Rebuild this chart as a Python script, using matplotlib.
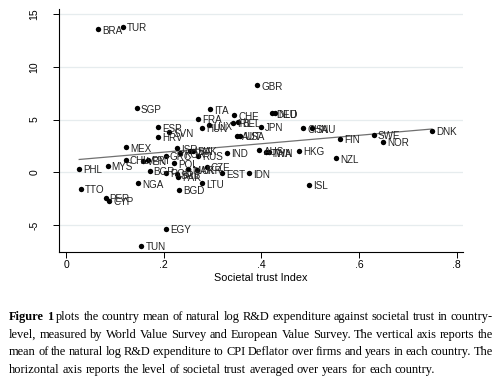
import matplotlib
matplotlib.use("Agg")
import matplotlib.pyplot as plt
import numpy as np

countries = ["BRA","TUR","SGP","ITA","CHE","FRA","ESP","SVN","HRV","HUN","LUX","IRL","BEL",
             "JPN","DEU","NLD","GBR","CHN","SAU","AUT","USA","FIN","SWE","NOR","DNK",
             "MEX","ISR","SVK","RUS","IND","AUS","TWN","THA","HKG","NZL","CHL","VEN","PRT",
             "GRC","KOR","LVA","PHL","MYS","TTO","PER","CYP","NGA","BGR","ROU","POL","SRB",
             "PAK","MAR","UKR","CZE","EST","IDN","LTU","BGD","EGY","TUN","ISL"]
trust = [0.065,0.117,0.145,0.295,0.344,0.270,0.189,0.211,0.189,0.278,0.293,0.341,0.352,
         0.399,0.421,0.427,0.392,0.485,0.503,0.351,0.357,0.561,0.630,0.649,0.749,
         0.123,0.227,0.261,0.271,0.329,0.396,0.410,0.415,0.478,0.553,0.122,0.158,0.167,
         0.204,0.234,0.254,0.027,0.085,0.031,0.081,0.089,0.147,0.171,0.204,0.221,0.227,
         0.230,0.249,0.268,0.288,0.319,0.375,0.278,0.232,0.204,0.154,0.497]
rd = [13.57,13.80,6.07,5.98,5.41,5.06,4.27,3.80,3.38,4.23,4.45,4.70,4.75,
      4.33,5.60,5.60,8.25,4.17,4.17,3.44,3.44,3.16,3.54,2.90,3.92,
      2.37,2.28,2.02,1.55,1.86,2.10,1.90,1.90,2.02,1.33,1.17,1.10,1.17,
      1.55,1.80,2.02,0.31,0.63,-1.58,-2.41,-2.72,-1.05,0.12,-0.04,0.85,-0.19,
      -0.42,0.28,0.22,0.53,-0.10,-0.10,-1.05,-1.68,-5.38,-6.96,-1.20]

fit_intercept = 1.11
fit_slope = 4.0

xticks = [0, 0.2, 0.4, 0.6, 0.8]
xticklabels = ["0", ".2", ".4", ".6", ".8"]
yticks = [-5, 0, 5, 10, 15]
yticklabels = ["-5", "0", "5", "10", "15"]

caption_lines = [
    "Figure 1 plots the country mean of natural log R&D expenditure against societal trust in country-",
    "level, measured by World Value Survey and European Value Survey. The vertical axis reports the",
    "mean of the natural log R&D expenditure to CPI Deflator over firms and years in each country. The",
    "horizontal axis reports the level of societal trust averaged over years for each country.",
]

W, H = 500, 380
fig = plt.figure(figsize=(5, 3.8), dpi=100)
ax = fig.add_axes([58.7/W, 1-252/H, (463-58.7)/W, (252-8.7)/H])

ax.set_xlim(-0.015, 0.813)
ax.set_ylim(-7.56, 15.52)
for yt in yticks:
    ax.axhline(yt, color="#e6ecee", lw=0.9, zorder=0)

xs = np.array([min(trust), max(trust)])
ax.plot(xs, fit_intercept + fit_slope*xs, color="#707070", lw=0.9, zorder=1)

ax.scatter(trust, rd, s=15, color="black", zorder=3, linewidths=0)
for c, x, y in zip(countries, trust, rd):
    ax.annotate(c, (x, y), xytext=(3, -1), textcoords="offset points",
                fontsize=7.1, family="Liberation Sans", color="#222222",
                va="center", ha="left", zorder=4)

ax.set_xticks(xticks)
ax.set_xticklabels(xticklabels, family="Liberation Sans", fontsize=7.5)
ax.set_yticks(yticks)
ax.set_yticklabels(yticklabels, family="Liberation Sans", fontsize=7.5,
                   rotation=90, va="center")
ax.tick_params(axis="y", length=4, width=0.7, pad=10)
ax.tick_params(axis="x", length=4, width=0.7, pad=2)
for s in ["top", "right"]:
    ax.spines[s].set_visible(False)
for s in ["left", "bottom"]:
    ax.spines[s].set_linewidth(0.8)
ax.set_xlabel("Societal trust Index", family="Liberation Sans", fontsize=7.8, labelpad=2)

# caption, justified
renderer = fig.canvas.get_renderer()
probe = fig.text(0, 0, caption_lines[3], family="Liberation Serif", fontsize=10)
pw = probe.get_window_extent(renderer).width
probe.remove()
fs = 10 * 425 / pw

x0, x1 = 9, 493
baselines = [320, 337.7, 355.3, 373]
for i, (line, yb) in enumerate(zip(caption_lines, baselines)):
    words = line.split(" ")
    texts = []
    for j, w in enumerate(words):
        bold = (i == 0 and j < 2)
        t = fig.text(0, 1 - yb/H, w, family="Liberation Serif", fontsize=fs,
                     fontweight="bold" if bold else "normal", va="baseline", ha="left")
        texts.append(t)
    widths = [t.get_window_extent(renderer).width for t in texts]
    if i < len(caption_lines) - 1:
        gap = (x1 - x0 - sum(widths)) / (len(words) - 1)
    else:
        sp = fig.text(0, 0, "a a", family="Liberation Serif", fontsize=fs)
        sa = fig.text(0, 0, "aa", family="Liberation Serif", fontsize=fs)
        gap = sp.get_window_extent(renderer).width - sa.get_window_extent(renderer).width
        sp.remove(); sa.remove()
    xp = x0
    for t, wdt in zip(texts, widths):
        t.set_x(xp / W)
        xp += wdt + gap

fig.savefig("out.png", dpi=100)
